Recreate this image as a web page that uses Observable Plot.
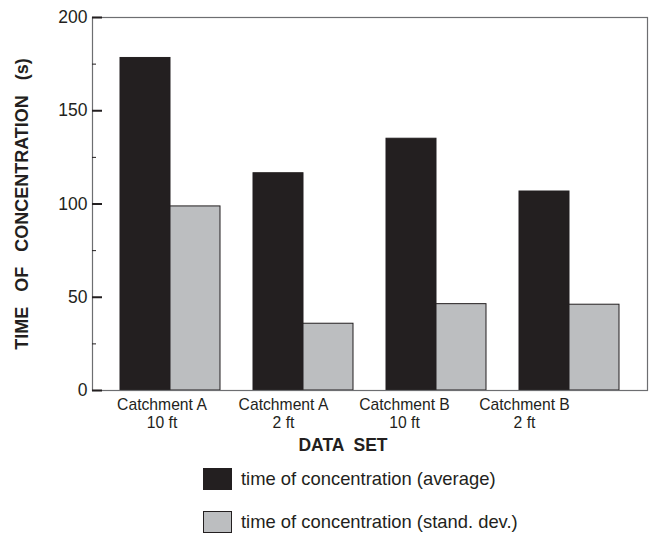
<!DOCTYPE html>
<html><head><meta charset="utf-8">
<script src="https://cdn.jsdelivr.net/npm/d3@7"></script>
<script src="https://cdn.jsdelivr.net/npm/@observablehq/plot@0.6"></script>
<style>
body{margin:0;background:#fff;font-family:"Liberation Sans",Arial,sans-serif;color:#231f20}
svg text{white-space:pre}
#legend{padding-left:203px;margin-top:8px}
.item{display:flex;align-items:center;height:22px;margin-bottom:21px}
.sw{width:29px;height:22px;box-sizing:border-box;border:1px solid #231f20;margin-right:9px}
.lab{font-size:18.4px;line-height:22px}
</style></head><body><div id="chart"></div><div id="legend"></div>
<script>
const groups = ["Catchment A\n10 ft", "Catchment A\n2 ft", "Catchment B\n10 ft", "Catchment B\n2 ft"];
const averageValues = [178.3, 116.5, 135, 106.7];
const stdDevValues = [98.7, 35.8, 46.3, 46];
const seriesNames = ["time of concentration (average)", "time of concentration (stand. dev.)"];
const seriesColors = ["#231f20", "#bcbec0"];
const yTicks = [0, 50, 100, 150, 200];
const yMinorTicks = [25, 75, 125, 175];
const xTitle = "DATA  SET";
const yTitle = "TIME   OF   CONCENTRATION   (s)";

const rows = [];
groups.forEach((g, i) => {
  rows.push({group: g, series: seriesNames[0], value: averageValues[i]});
  rows.push({group: g, series: seriesNames[1], value: stdDevValues[i]});
});

const W = 657, H = 460;
const xScale = {domain: groups, paddingInner: 0.25, paddingOuter: 0.2};
const yScale = {domain: [0, 200]};
const margins = {marginLeft: 92, marginRight: 10, marginTop: 17, marginBottom: 70};
// layout nudges for the category labels (the original's labels sit a little left of their bar pairs)
const labelNudge = [-8.5, -20, -32, -45];

// probe to get the band width from the library's scale
const probe = Plot.plot({width: W, height: H, ...margins, x: xScale, y: yScale, marks: [Plot.barY(rows, {x: "group", y: "value"})]});
const half = probe.scale("x").bandwidth / 2;

const colorScale = {domain: seriesNames, range: seriesColors};

const labelMarks = groups.map((g, i) => Plot.text([g], {
  x: d => d, text: d => d, frameAnchor: "bottom", lineAnchor: "top",
  dy: 7.7, dx: labelNudge[i], lineHeight: 1.1, fontSize: 15.7, fill: "#231f20"
}));

const chart = Plot.plot({
  width: W, height: H, ...margins,
  style: {fontFamily: "'Liberation Sans', Arial, sans-serif", fontSize: "15.7px", color: "#231f20", background: "#fff"},
  x: {...xScale, axis: null},
  y: {...yScale, axis: null},
  color: colorScale,
  marks: [
    Plot.barY(rows.filter(d => d.series === seriesNames[0]), {x: "group", y: "value", fill: "series", stroke: "#231f20", strokeWidth: 1, insetRight: half}),
    Plot.barY(rows.filter(d => d.series === seriesNames[1]), {x: "group", y: "value", fill: "series", stroke: "#231f20", strokeWidth: 1, insetLeft: half}),
    Plot.frame({stroke: "#6d6e71", strokeWidth: 1.2}),
    Plot.axisY({ticks: yTicks, tickSize: -10, tickPadding: 15, strokeWidth: 2, stroke: "#231f20", fill: "#231f20", fontSize: 17.5, label: null}),
    Plot.axisY({ticks: yMinorTicks, tickSize: -4, tickFormat: () => "", strokeWidth: 1, stroke: "#231f20", label: null}),
    ...labelMarks,
    Plot.text([yTitle], {text: d => d, frameAnchor: "left", textAnchor: "middle", rotate: -90, dx: -70, fontWeight: "bold", fontSize: 18, fill: "#231f20"}),
    Plot.text([xTitle], {text: d => d, frameAnchor: "bottom", textAnchor: "middle", lineAnchor: "top", dx: -27, dy: 48, fontWeight: "bold", fontSize: 17.5, fill: "#231f20"})
  ]
});
document.getElementById("chart").appendChild(chart);

const legend = document.getElementById("legend");
seriesNames.forEach((name, i) => {
  const item = document.createElement("div");
  item.className = "item";
  const sw = document.createElement("div");
  sw.className = "sw";
  sw.style.background = seriesColors[i];
  const lab = document.createElement("span");
  lab.className = "lab";
  lab.textContent = name;
  item.appendChild(sw);
  item.appendChild(lab);
  legend.appendChild(item);
});
</script></body></html>
